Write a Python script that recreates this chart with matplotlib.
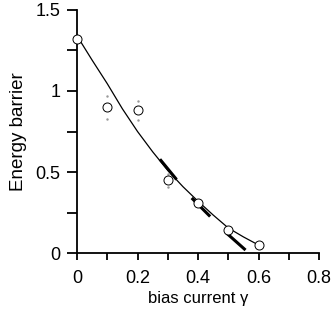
import numpy as np
import matplotlib.pyplot as plt

plt.rcParams["font.family"] = ["Liberation Sans", "DejaVu Sans"]

# measured points
gamma = [0.0, 0.1, 0.2, 0.3, 0.4, 0.5, 0.6]
barrier = [1.32, 0.90, 0.88, 0.45, 0.31, 0.14, 0.05]
err = [0.0, 0.07, 0.06, 0.04, 0.0, 0.0, 0.0]

# fitted curve
fit_x = [0.0, 0.05, 0.1, 0.15, 0.2, 0.25, 0.3, 0.35, 0.4, 0.45, 0.5, 0.55, 0.6]
fit_y = [1.34, 1.19, 1.045, 0.89, 0.75, 0.625, 0.51, 0.41, 0.32, 0.235, 0.155, 0.10, 0.05]

# short tangent pieces
tan1_x = [0.274, 0.329]
tan1_y = [0.579, 0.454]
tan2_x = [0.379, 0.44]
tan2_y = [0.34, 0.226]
tan3_x = [0.495, 0.557]
tan3_y = [0.122, 0.019]

fig = plt.figure(figsize=(3.32, 3.2), dpi=100)
ax = fig.add_axes([0.232, 0.209, 0.729, 0.76])

ax.plot(fit_x, fit_y, color="black", lw=0.9)
for tx, ty in [(tan1_x, tan1_y), (tan2_x, tan2_y), (tan3_x, tan3_y)]:
    ax.plot(tx, ty, color="black", lw=2.2, solid_capstyle="butt")

# faint error-bar end dots
for x, y, e in zip(gamma, barrier, err):
    if e > 0:
        ax.plot([x, x], [y - e, y + e], ".", color="0.6", ms=1.5)

ax.plot(gamma, barrier, "o", mfc="white", mec="black", ms=6.5, mew=0.7, clip_on=False, zorder=5)

ax.set_xlim(0, 0.8)
ax.set_ylim(0, 1.5)
ax.set_xticks([0, 0.2, 0.4, 0.6, 0.8])
ax.set_xticklabels(["0", "0.2", "0.4", "0.6", "0.8"])
ax.set_xticks(np.arange(0, 0.81, 0.1), minor=True)
ax.set_yticks([0, 0.5, 1, 1.5])
ax.set_yticklabels(["0", "0.5", "1", "1.5"])
ax.set_yticks([0.25, 0.75, 1.25], minor=True)

ax.spines["top"].set_visible(False)
ax.spines["right"].set_visible(False)
ax.spines["left"].set_linewidth(1.3)
ax.spines["bottom"].set_linewidth(1.3)
ax.tick_params(axis="x", which="both", direction="out", length=5, width=1.3, labelsize=13, pad=7)
ax.tick_params(axis="y", which="both", direction="out", length=7, width=1.3, labelsize=13, pad=5)

ax.set_xlabel("bias current γ", fontsize=12, labelpad=3)
ax.set_ylabel("Energy barrier", fontsize=13.5, labelpad=6)

fig.savefig("out.png", dpi=100)
